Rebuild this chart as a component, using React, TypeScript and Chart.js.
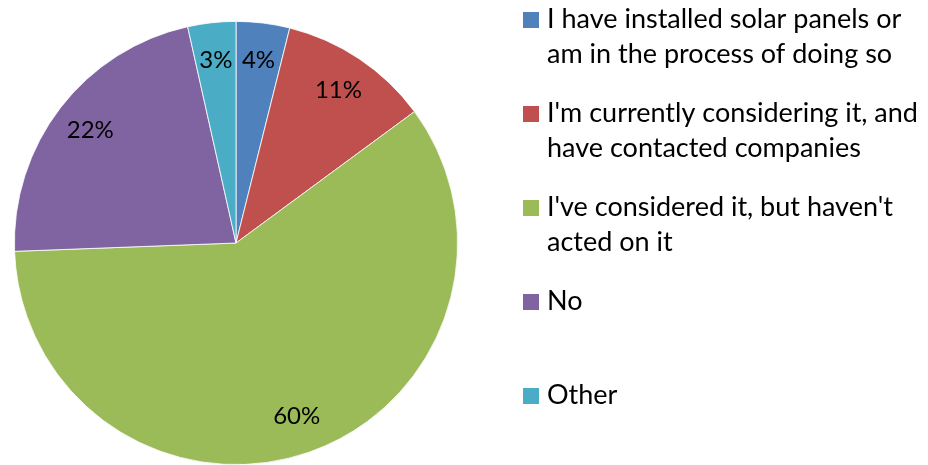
import React, { useEffect, useRef } from "react";
import { Chart, registerables } from "chart.js";

Chart.register(...registerables);

const categories: string[][] = [
  ["I have installed solar panels or", "am in the process of doing so"],
  ["I'm currently considering it, and", "have contacted companies"],
  ["I've considered it, but haven't", "acted on it"],
  ["No"],
  ["Other"],
];
const values: number[] = [3.9, 11.0, 59.5, 22.1, 3.5];
const valueLabels: string[] = ["4%", "11%", "60%", "22%", "3%"];
const colors: string[] = ["#4F81BD", "#C0504D", "#9BBB59", "#8064A2", "#4BACC6"];

const FONT = "Lato, 'Open Sans', sans-serif";

const labelPlugin = {
  id: "sliceLabels",
  afterDatasetsDraw(chart: any) {
    const ctx = chart.ctx;
    const meta = chart.getDatasetMeta(0);
    ctx.save();
    ctx.fillStyle = "#000";
    ctx.font = `24px ${FONT}`;
    ctx.textAlign = "center";
    ctx.textBaseline = "middle";
    meta.data.forEach((arc: any, i: number) => {
      const { x, y, startAngle, endAngle, outerRadius } = arc.getProps(
        ["x", "y", "startAngle", "endAngle", "outerRadius"],
        true
      );
      const mid = (startAngle + endAngle) / 2;
      const r = outerRadius * 0.83;
      ctx.fillText(valueLabels[i], x + Math.cos(mid) * r, y + Math.sin(mid) * r);
    });
    ctx.restore();
  },
};

const legendPlugin = {
  id: "customLegend",
  afterDraw(chart: any) {
    const ctx = chart.ctx;
    const labels = chart.data.labels as string[][];
    const bg = chart.data.datasets[0].backgroundColor as string[];
    ctx.save();
    ctx.font = `27px ${FONT}`;
    ctx.textAlign = "left";
    ctx.textBaseline = "alphabetic";
    const boxX = 523;
    const textX = 547;
    const startY = 12;
    const step = 94;
    const lineH = 35;
    labels.forEach((lines, i) => {
      const top = startY + step * i;
      ctx.fillStyle = bg[i];
      ctx.fillRect(boxX, top, 16, 16);
      ctx.fillStyle = "#000";
      lines.forEach((t, j) => {
        ctx.fillText(t, textX, top + 16 + j * lineH);
      });
    });
    ctx.restore();
  },
};

export default function App() {
  const ref = useRef<HTMLCanvasElement | null>(null);
  useEffect(() => {
    if (!ref.current) return;
    const chart = new Chart(ref.current, {
      type: "pie",
      data: {
        labels: categories,
        datasets: [
          {
            data: values,
            backgroundColor: colors,
            borderColor: "#ffffff",
            borderWidth: 0.8,
          },
        ],
      },
      options: {
        animation: false,
        responsive: false,
        maintainAspectRatio: false,
        layout: { padding: { left: 14, top: 21, right: 470, bottom: 0 } },
        plugins: {
          legend: { display: false },
          tooltip: { enabled: false },
        },
      },
      plugins: [labelPlugin, legendPlugin],
    });
    return () => chart.destroy();
  }, []);
  return (
    <div style={{ position: "fixed", left: 0, top: 0, width: 928, height: 465, background: "#fff" }}>
      <canvas ref={ref} width={928} height={465} style={{ width: 928, height: 465 }} />
    </div>
  );
}
